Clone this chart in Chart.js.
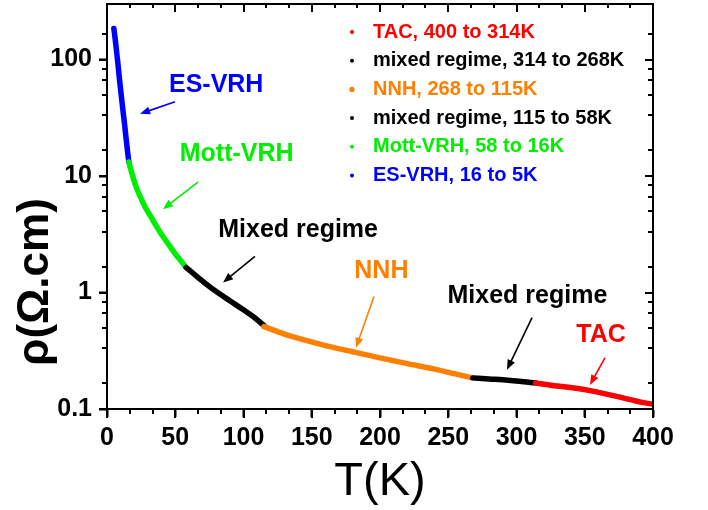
<!DOCTYPE html>
<html lang="en">
<head>
<meta charset="UTF-8">
<title>Resistivity vs temperature</title>
<script src="https://cdn.jsdelivr.net/npm/chart.js"></script>
<style>
    html, body { margin: 0; padding: 0; background: #fff; }
    .chart-box { width: 708px; height: 510px; }
</style>
</head>
<body>
<div class="chart-box"><canvas id="rhoChart"></canvas></div>
<script>
// rho (ohm.cm) vs T (K), one array pair per conduction regime
const tacT    = [314, 325, 335, 345, 355, 365, 375, 385, 392, 400];
const tacRho  = [0.167, 0.160, 0.155, 0.150, 0.143, 0.135, 0.127, 0.119, 0.114, 0.110];
const mix2T   = [268, 280, 290, 302, 314];
const mix2Rho = [0.185, 0.181, 0.178, 0.173, 0.167];
const nnhT    = [115, 130, 145, 160, 180, 200, 220, 240, 255, 268];
const nnhRho  = [0.51, 0.44, 0.39, 0.35, 0.31, 0.275, 0.245, 0.22, 0.20, 0.185];
const mix1T   = [58, 65, 72, 80, 90, 100, 108, 115];
const mix1Rho = [1.64, 1.40, 1.20, 1.02, 0.85, 0.71, 0.61, 0.52];
const mottT   = [16, 18, 20, 22, 25, 28, 32, 36, 40, 45, 50, 54, 58];
const mottRho = [13.2, 10.8, 9.0, 7.7, 6.4, 5.4, 4.5, 3.75, 3.15, 2.6, 2.15, 1.88, 1.64];
const esT     = [5, 6, 7, 8, 9, 10, 11, 12, 13, 14, 15, 16];
const esRho   = [185, 150, 118, 92, 70, 55, 43, 34, 27, 21, 16.5, 13.2];

const legendLabels = ['TAC, 400 to 314K', 'mixed regime, 314 to 268K', 'NNH, 268 to 115K',
                      'mixed regime, 115 to 58K', 'Mott-VRH, 58 to 16K', 'ES-VRH, 16 to 5K'];
const regimeColors = ['#ff0000', '#000000', '#ff8000', '#000000', '#00ee00', '#0000ff'];

const xTicks = [0, 50, 100, 150, 200, 250, 300, 350, 400];
const yTicks = [0.1, 1, 10, 100];

// annotations: label position and arrow (tail -> head), in data units
const noteText  = ['ES-VRH', 'Mott-VRH', 'Mixed regime', 'NNH', 'Mixed regime', 'TAC'];
const noteColor = ['#0000ff', '#00ee00', '#000000', '#ff8000', '#000000', '#ff0000'];
const noteT     = [80, 95, 140, 201, 308, 362];
const noteRho   = [60, 15.5, 3.42, 1.52, 0.94, 0.434];
const arrowFromT   = [49.8, 66.7, 108.4, 195.6, 311.4, 364.8];
const arrowFromRho = [43.5, 8.87, 2.04, 0.924, 0.609, 0.275];
const arrowToT     = [24.2, 41, 85, 182.4, 293, 353.8];
const arrowToRho   = [34.2, 5.2, 1.22, 0.336, 0.217, 0.161];

const FONT = "'Liberation Sans', Arial, sans-serif";

function pts(ts, rs) {
    return ts.map((t, i) => ({ x: t, y: rs[i] }));
}

const series = [
    pts(tacT, tacRho), pts(mix2T, mix2Rho), pts(nnhT, nnhRho),
    pts(mix1T, mix1Rho), pts(mottT, mottRho), pts(esT, esRho)
];

// y title, legend and labelled arrows
const decorations = {
    id: 'decorations',
    afterDraw(chart) {
        const { ctx, chartArea: a, scales: { x, y } } = chart;
        ctx.save();

        ctx.save();
        ctx.translate(36, 282);
        ctx.rotate(-Math.PI / 2);
        ctx.fillStyle = '#000';
        ctx.font = 'bold 44px ' + FONT;
        ctx.textAlign = 'center';
        ctx.textBaseline = 'middle';
        ctx.fillText('ρ(Ω.cm)', 0, 0);
        ctx.restore();

        ctx.font = 'bold 20px ' + FONT;
        ctx.textAlign = 'left';
        ctx.textBaseline = 'middle';
        legendLabels.forEach((lab, i) => {
            const ly = a.top + 28 + i * 28.7;
            ctx.fillStyle = regimeColors[i];
            ctx.beginPath();
            ctx.arc(a.left + 245, ly, regimeColors[i] === '#ff8000' ? 2.6 : 2, 0, Math.PI * 2);
            ctx.fill();
            ctx.fillText(lab, a.left + 266, ly);
        });

        ctx.font = 'bold 25px ' + FONT;
        ctx.textAlign = 'center';
        noteText.forEach((txt, i) => {
            ctx.fillStyle = noteColor[i];
            ctx.strokeStyle = noteColor[i];
            ctx.fillText(txt, x.getPixelForValue(noteT[i]), y.getPixelForValue(noteRho[i]));
            const x0 = x.getPixelForValue(arrowFromT[i]), y0 = y.getPixelForValue(arrowFromRho[i]);
            const x1 = x.getPixelForValue(arrowToT[i]), y1 = y.getPixelForValue(arrowToRho[i]);
            const ang = Math.atan2(y1 - y0, x1 - x0);
            ctx.lineWidth = 1.6;
            ctx.beginPath();
            ctx.moveTo(x0, y0);
            ctx.lineTo(x1 - 6 * Math.cos(ang), y1 - 6 * Math.sin(ang));
            ctx.stroke();
            ctx.beginPath();
            ctx.moveTo(x1, y1);
            ctx.lineTo(x1 - 10 * Math.cos(ang) + 4 * Math.sin(ang), y1 - 10 * Math.sin(ang) - 4 * Math.cos(ang));
            ctx.lineTo(x1 - 10 * Math.cos(ang) - 4 * Math.sin(ang), y1 - 10 * Math.sin(ang) + 4 * Math.cos(ang));
            ctx.closePath();
            ctx.fill();
        });
        ctx.restore();
    }
};

// top/right box edges plus minor ticks and the inward ticks on top/right
const frame = {
    id: 'frame',
    afterDraw(chart) {
        const { ctx, chartArea: a, scales: { x, y } } = chart;
        ctx.save();
        ctx.fillStyle = '#000';
        ctx.fillRect(a.left - 1, a.top - 1, a.right - a.left + 2, 2);
        ctx.fillRect(a.right - 1, a.top - 1, 2, a.bottom - a.top + 2);
        let n = 0;
        const step = (xTicks[1] - xTicks[0]) / 3;
        for (let v = xTicks[0]; v <= xTicks[xTicks.length - 1] + 0.001; v += step) {
            const px = Math.round(x.getPixelForValue(v));
            const len = n % 3 === 0 ? 9 : 5;
            ctx.fillRect(px - 1, a.bottom, 2, len);
            ctx.fillRect(px - 1, a.top, 2, len - 1);
            n++;
        }
        for (const m of yTicks) {
            for (let k = 0; k < 6; k++) {
                const v = k === 0 ? m : m * 10 * k / 6;
                if (v > y.max) continue;
                const py = Math.round(y.getPixelForValue(v));
                const len = k === 0 ? 8 : 5;
                ctx.fillRect(a.left - len, py - 1, len, 2);
                ctx.fillRect(a.right - len, py - 1, len, 2);
            }
        }
        ctx.restore();
    }
};

new Chart(document.getElementById('rhoChart'), {
    type: 'line',
    data: {
        datasets: series.map((d, i) => ({
            label: legendLabels[i],
            data: d,
            borderColor: regimeColors[i],
            borderWidth: 5.5,
            borderCapStyle: 'round',
            pointRadius: 0,
            cubicInterpolationMode: 'monotone'
        }))
    },
    options: {
        responsive: true,
        maintainAspectRatio: false,
        animation: false,
        layout: { padding: { top: 4, right: 55, left: 0, bottom: 0 } },
        plugins: {
            legend: { display: false },
            tooltip: { enabled: false }
        },
        scales: {
            x: {
                type: 'linear',
                min: 0,
                max: 400,
                afterFit: s => { s.height = 101; s.paddingLeft = 0; s.paddingRight = 0; },
                afterBuildTicks: s => { s.ticks = xTicks.map(v => ({ value: v })); },
                grid: {
                    display: true,
                    drawOnChartArea: false,
                    drawTicks: true,
                    tickLength: 8,
                    tickWidth: 2,
                    tickColor: '#000'
                },
                border: { display: true, color: '#000', width: 2 },
                ticks: {
                    color: '#000',
                    padding: 6,
                    maxRotation: 0,
                    font: { family: FONT, size: 25, weight: 'bold' }
                },
                title: {
                    display: true,
                    text: 'T(K)',
                    color: '#000',
                    padding: 0,
                    font: { family: FONT, size: 47 }
                }
            },
            y: {
                type: 'logarithmic',
                min: 0.1,
                max: 300,
                afterFit: s => { s.width = 107; s.paddingTop = 0; s.paddingBottom = 0; },
                afterBuildTicks: s => { s.ticks = yTicks.map(v => ({ value: v })); },
                grid: {
                    display: true,
                    drawOnChartArea: false,
                    drawTicks: true,
                    tickLength: 8,
                    tickWidth: 2,
                    tickColor: '#000'
                },
                border: { display: true, color: '#000', width: 2 },
                ticks: {
                    color: '#000',
                    padding: 7,
                    callback: v => String(v),
                    font: { family: FONT, size: 25, weight: 'bold' }
                }
            }
        }
    },
    plugins: [decorations, frame]
});
</script>
</body>
</html>
